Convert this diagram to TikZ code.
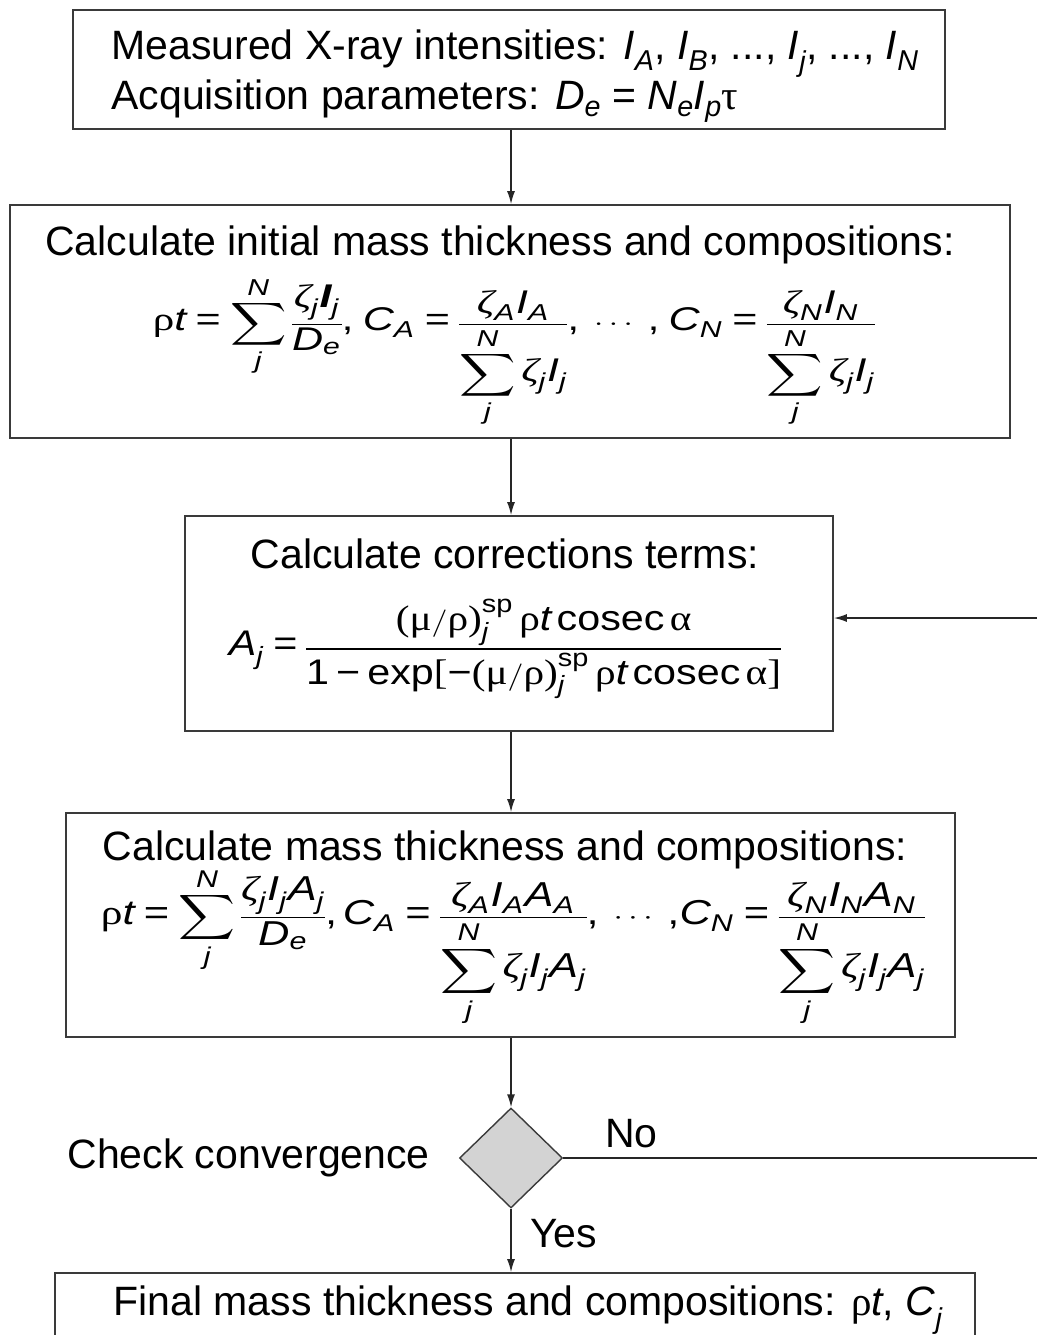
\documentclass[tikz,border=0pt]{standalone}
\usepackage{amsmath}
\usepackage{fontspec}
\setmainfont{Liberation Sans}
\newfontfamily\grk{Liberation Serif}
\usetikzlibrary{shapes.geometric,arrows.meta}
\makeatletter
\newcommand{\bigf}{\fontsize{\fpeval{1.3*\f@size}}{\fpeval{1.6*\f@size}}\selectfont}
\makeatother
\newcommand{\g}[1]{\text{\grk #1}}
\newcommand{\iv}[1]{\textit{#1}}
\newcommand{\mv}[1]{\text{\bigf\itshape #1}}
\newcommand{\mg}[1]{\text{\bigf\grk #1}}
\newcommand{\mgi}[1]{\text{\bigf\grk\itshape #1}}
\newcommand{\mt}[1]{\text{\bigf #1}}
\newcommand{\eq}{\mathrel{\mt{=}}}
\newcommand{\mn}{\mathbin{\mt{−}}}
\newcommand{\Sum}{\mathop{\vcenter{\hbox{\scalebox{1.18}{$\displaystyle\sum$}}}}\limits}
\newcommand{\sm}{\displaystyle\Sum_{\mv{j}}^{\mv{N}}}
\newcommand{\tenpt}{\fontsize{10}{12}\selectfont\nulldelimiterspace=0pt}
\definecolor{boxline}{HTML}{3A3A3A}
\definecolor{dfill}{HTML}{D3D3D3}
\tikzset{
  box/.style={draw=boxline, line width=1.8pt, fill=white, inner sep=0pt},
  lbl/.style={inner sep=0pt, font=\fontsize{41}{50}\selectfont},
  conn/.style={draw=black!85, line width=1.4pt, -{Latex[length=13pt,width=8pt]}},
  plain/.style={draw=black!85, line width=1.4pt},
  dec/.style={draw=boxline, line width=1.4pt, fill=dfill, diamond, aspect=1, minimum width=103pt, minimum height=100pt, inner sep=0pt}
}
\begin{document}
\begin{tikzpicture}[x=1pt,y=-1pt]
\path[use as bounding box, clip] (0,0) rectangle (1037,1335);
\fill[white] (0,0) rectangle (1037,1335);
% boxes
\node[box, minimum width=872pt, minimum height=119pt] (b1) at (509,69.5) {};
\node[box, minimum width=1000pt, minimum height=233pt] (b2) at (510,321.5) {};
\node[box, minimum width=648pt, minimum height=215pt] (b3) at (509,623.5) {};
\node[box, minimum width=889pt, minimum height=224pt] (b4) at (510.5,925) {};
\node[box, minimum width=920pt, minimum height=100pt] (b5) at (515,1323) {};
\node[dec] (d) at (511,1158) {};
% texts
\node[lbl, align=left] (t1) at (515,76) {Measured X-ray intensities: $\iv{I}_{\iv{A}}$, $\iv{I}_{\iv{B}}$, ..., $\iv{I}_{\iv{j}}$, ..., $\iv{I}_{\iv{N}}$\\
Acquisition parameters: $\iv{D}_{\iv{e}}$ = $\iv{N}_{\iv{e}}\iv{I}_{\iv{p}}$\g{τ}};
\node[lbl] (t2) at (500,245) {Calculate initial mass thickness and compositions:};
\node[lbl] (f2) at (514,352) {\resizebox*{722pt}{150pt}{\tenpt$\displaystyle
 \mg{ρ}\mv{t} \eq \Sum_{\mv{j}}^{\mv{N}}\frac{\mgi{ζ}_{\mv{j}}\text{\bigf\bfseries\itshape I}_{\mv{j}}}{\mv{D}_{\mv{e}}}\mt{,}\;
 \mv{C}_{\mv{A}} \eq \frac{\mgi{ζ}_{\mv{A}}\mv{I}_{\mv{A}}}{\sm\mgi{ζ}_{\mv{j}}\mv{I}_{\mv{j}}}\mt{,}\ \cdots\ \mt{,}\;
 \mv{C}_{\mv{N}} \eq \frac{\mgi{ζ}_{\mv{N}}\mv{I}_{\mv{N}}}{\sm\mgi{ζ}_{\mv{j}}\mv{I}_{\mv{j}}}$}};
\node[lbl] (t3) at (505,554) {Calculate corrections terms:};
\node[lbl] (f3) at (505,649) {\resizebox*{552pt}{100pt}{\tenpt$\displaystyle
 \mv{A}_{\mv{j}} \eq \frac{\mg{(}\mg{μ}/\mg{ρ}\mg{)}^{\mt{sp}}_{\mv{j}}\,\mg{ρ}\mv{t}\,\mt{cosec}\,\mg{α}}{\mt{1} \mn \mt{exp}\mg{[}{\mn}\mg{(}\mg{μ}/\mg{ρ}\mg{)}^{\mt{sp}}_{\mv{j}}\,\mg{ρ}\mv{t}\,\mt{cosec}\,\mg{α}\mg{]}}$}};
\node[lbl] (t4) at (505,850) {Calculate mass thickness and compositions:};
\node[lbl] (f4) at (513,947) {\resizebox*{824pt}{158pt}{\tenpt$\displaystyle
 \mg{ρ}\mv{t} \eq \Sum_{\mv{j}}^{\mv{N}}\frac{\mgi{ζ}_{\mv{j}}\mv{I}_{\mv{j}}\mv{A}_{\mv{j}}}{\mv{D}_{\mv{e}}}\mt{,}\,
 \mv{C}_{\mv{A}} \eq \frac{\mgi{ζ}_{\mv{A}}\mv{I}_{\mv{A}}\mv{A}_{\mv{A}}}{\sm\mgi{ζ}_{\mv{j}}\mv{I}_{\mv{j}}\mv{A}_{\mv{j}}}\mt{,}\ \cdots\ \mt{,}
 \mv{C}_{\mv{N}} \eq \frac{\mgi{ζ}_{\mv{N}}\mv{I}_{\mv{N}}\mv{A}_{\mv{N}}}{\sm\mgi{ζ}_{\mv{j}}\mv{I}_{\mv{j}}\mv{A}_{\mv{j}}}$}};
\node[lbl, anchor=east] (cc) at (430,1158) {Check convergence};
\node[lbl, anchor=west] (no) at (605,1134) {No};
\node[lbl, anchor=west] (yes) at (530,1234) {Yes};
\node[lbl] (t5) at (528,1310) {Final mass thickness and compositions: \g{ρ}\textit{t}, \textit{C}$_{\iv{j}}$};
% connectors
\coordinate (fb) at (1037,618);
\coordinate (noend) at (1037,1158);
\draw[conn] (b1.south -| 511,0) -- (b2.north -| 511,0);
\draw[conn] (b2.south -| 511,0) -- (b3.north -| 511,0);
\draw[conn] (b3.south -| 511,0) -- (b4.north -| 511,0);
\draw[conn] (b4.south -| d.north) -- (d.north);
\draw[conn] (d.south) -- (d.south |- b5.north);
\draw[plain] (d.east) -- (noend);
\draw[conn] (fb) -- (fb -| b3.east);
\end{tikzpicture}
\end{document}
